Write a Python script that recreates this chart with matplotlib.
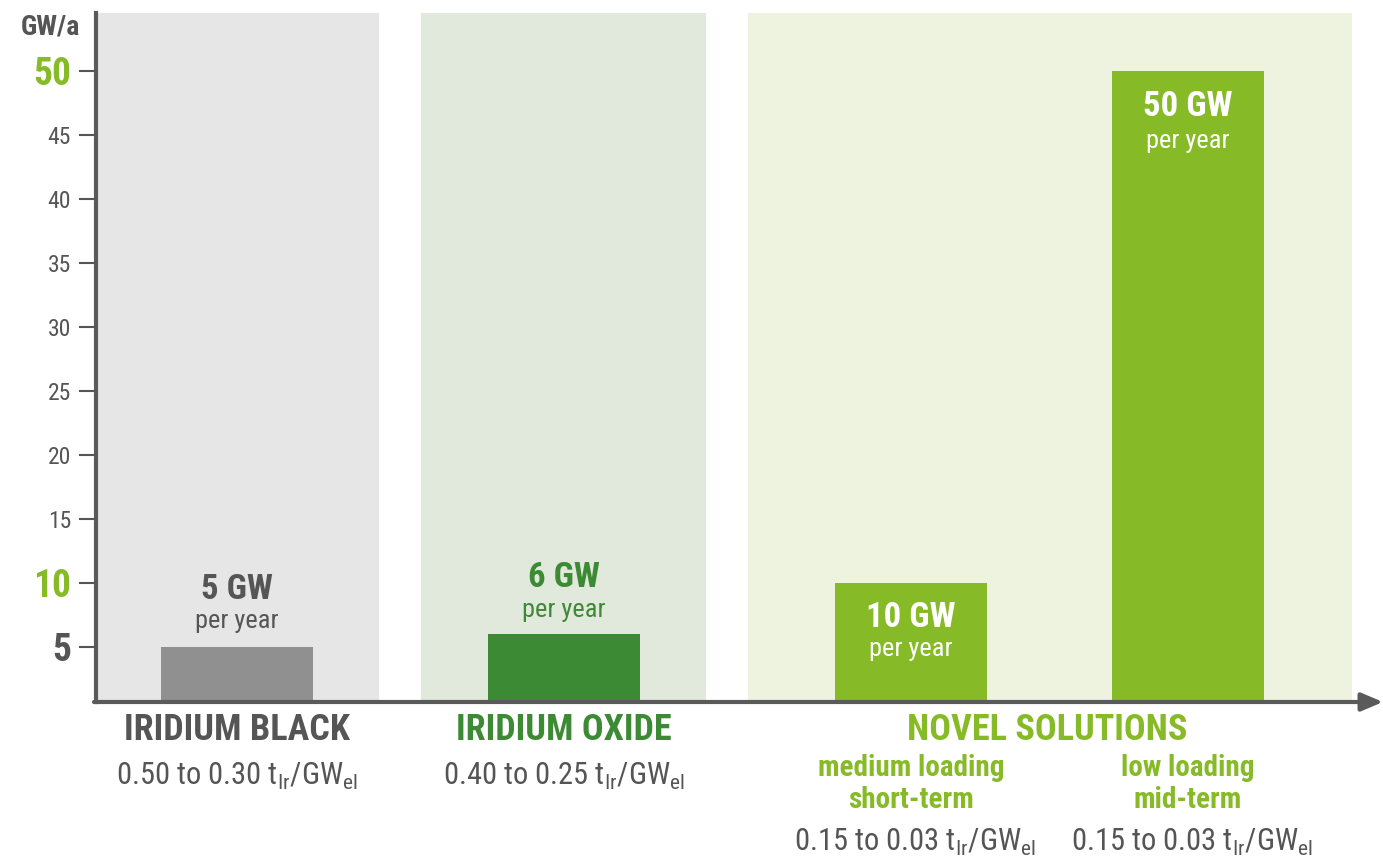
import numpy as np
import matplotlib.pyplot as plt
from matplotlib import font_manager

# ====================
# data
# ====================
groups = ["IRIDIUM BLACK", "IRIDIUM OXIDE", "NOVEL SOLUTIONS"]
bar_values = [5, 6, 10, 50]
bar_texts = ["5 GW", "6 GW", "10 GW", "50 GW"]
loadings = ["0.50 to 0.30", "0.40 to 0.25", "0.15 to 0.03", "0.15 to 0.03"]
novel_sub = ["medium loading\nshort-term", "low loading\nmid-term"]
yticks = [5, 10, 15, 20, 25, 30, 35, 40, 45, 50]
highlight_ticks = {50: "#86bb27", 10: "#86bb27", 5: "#555555"}

# ====================
# style
# ====================
names = {f.name for f in font_manager.fontManager.ttflist}
fam = [n for n in ["Roboto Condensed", "Liberation Sans Narrow", "Open Sans Condensed"] if n in names]
plt.rcParams["font.family"] = fam + ["DejaVu Sans"]

GRAY = "#555555"
BAR_GRAY = "#909090"
DARK_GREEN = "#3d8a35"
LIGHT_GREEN = "#86bb27"
bar_colors = [BAR_GRAY, DARK_GREEN, LIGHT_GREEN, LIGHT_GREEN]

# positions in pixel-like units
bar_x = [237, 564, 911, 1188]
bar_w = 152
panels = [(96, 379, "#e6e6e6"), (421, 706, "#e1e8dc"), (748, 1352, "#eef3df")]
y0, y1 = 0.7, 54.5

fig = plt.figure(figsize=(13.83, 8.59), dpi=100)
ax = fig.add_axes([96 / 1383, (859 - 702) / 859, (1383 - 96) / 1383, (702 - 13) / 859])
ax.set_xlim(96, 1383)
ax.set_ylim(y0, y1)

for a, b, c in panels:
    ax.axvspan(a, b, color=c, zorder=0, lw=0)

ax.bar(bar_x, bar_values, width=bar_w, color=bar_colors, zorder=2)

# labels on / above bars
lab_y = [(9.45, 7.0), (10.4, 7.9), (7.3, 4.8), (47.2, 44.5)]
lab_c = [GRAY, DARK_GREEN, "white", "white"]
for x, t, (ya, yb), c in zip(bar_x, bar_texts, lab_y, lab_c):
    ax.text(x, ya, t, ha="center", va="center", fontsize=25, fontweight="bold", color=c, zorder=3)
    ax.text(x, yb, "per year", ha="center", va="center", fontsize=19, color=c, zorder=3)

# spines / axes
for s in ["top", "right", "bottom"]:
    ax.spines[s].set_visible(False)
ax.spines["left"].set_linewidth(3)
ax.spines["left"].set_color("#5a5a5a")
ax.annotate("", xy=(1383, y0), xytext=(94, y0), xycoords="data",
            arrowprops=dict(arrowstyle="-|>,head_length=1.3,head_width=0.55", lw=3, color="#5a5a5a",
                            shrinkA=0, shrinkB=0), annotation_clip=False, zorder=4)

ax.set_xticks([])
ax.set_yticks(yticks)
ax.tick_params(axis="y", direction="out", length=12, width=1.5, color=GRAY, pad=6,
               labelsize=17, labelcolor=GRAY)
for lbl, tk, v in zip(ax.get_yticklabels(), ax.yaxis.get_major_ticks(), yticks):
    if v in highlight_ticks:
        lbl.set_color(highlight_ticks[v])
        lbl.set_fontweight("bold")
        lbl.set_fontsize(27)
        if v != 5:
            tk.tick1line.set_color(LIGHT_GREEN if v == 10 else DARK_GREEN)

ax.text(50, 53.4, "GW/a", ha="center", va="center", fontsize=20, fontweight="bold", color=GRAY,
        clip_on=False)

# x-axis labels
unit = r" t$\mathregular{_{Ir}}$/GW$\mathregular{_{el}}$"
ax.text(bar_x[0], -1.5, groups[0], ha="center", va="center", fontsize=26, fontweight="bold", color=GRAY)
ax.text(bar_x[1], -1.5, groups[1], ha="center", va="center", fontsize=26, fontweight="bold", color=DARK_GREEN)
ax.text((bar_x[2] + bar_x[3]) / 2 - 2, -1.5, groups[2], ha="center", va="center", fontsize=26,
        fontweight="bold", color=LIGHT_GREEN)
for x, l in zip(bar_x[:2], loadings[:2]):
    ax.text(x, -5.1, l + unit, ha="center", va="center", fontsize=22, color=GRAY)
for x, s in zip(bar_x[2:], novel_sub):
    ax.text(x, -5.7, s, ha="center", va="center", fontsize=21, fontweight="bold", color=LIGHT_GREEN,
            linespacing=1.15)
for x, l in zip(bar_x[2:], loadings[2:]):
    ax.text(x + 4, -10.3, l + unit, ha="center", va="center", fontsize=22, color=GRAY)

fig.savefig("out.png", dpi=100)
